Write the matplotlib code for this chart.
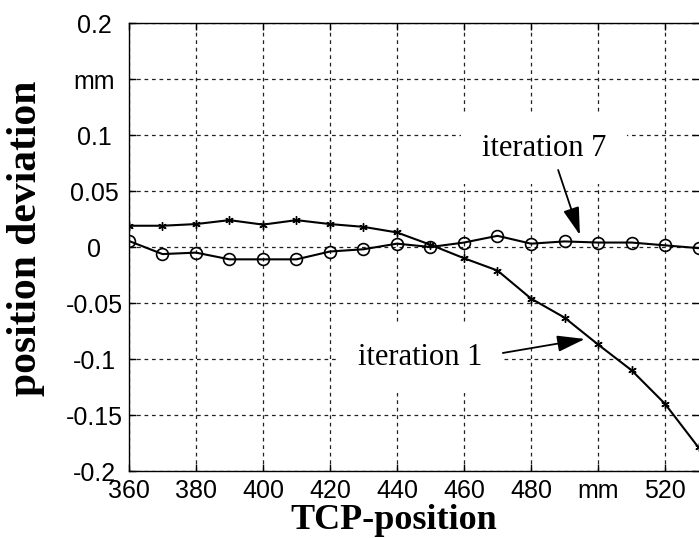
import matplotlib
matplotlib.use("Agg")
import matplotlib.pyplot as plt

# Messpunkte
tcp_pos = [360, 370, 380, 390, 400, 410, 420, 430, 440, 450,
           460, 470, 480, 490, 500, 510, 520, 530]
iter1 = [0.019, 0.019, 0.0205, 0.024, 0.020, 0.024, 0.0205, 0.018, 0.013, 0.002,
         -0.010, -0.021, -0.046, -0.063, -0.087, -0.110, -0.140, -0.179]
iter7 = [0.0054, -0.0063, -0.005, -0.011, -0.011, -0.011, -0.004, -0.002, 0.003, 0.0,
         0.004, 0.010, 0.003, 0.005, 0.004, 0.004, 0.0015, -0.001]

xticks = [360, 380, 400, 420, 440, 460, 480, 500, 520]
xticklabels = ['360', '380', '400', '420', '440', '460', '480', 'mm', '520']
yticks = [0.2, 0.15, 0.1, 0.05, 0, -0.05, -0.1, -0.15, -0.2]
yticklabels = ['0.2', 'mm', '0.1', '0.05', '0', '-0.05', '-0.1', '-0.15', '-0.2']

fig = plt.figure(figsize=(6.99, 5.38), dpi=100)
ax = fig.add_axes([0.1845, 0.1245, 0.8148, 0.8327])

ax.plot(tcp_pos, iter1, color='black', lw=1.5, marker=(6, 2, 0), ms=6, mew=1.0, zorder=3)
ax.plot(tcp_pos, iter7, color='black', lw=1.5, marker='o', ms=8.5, mew=1.2,
        mfc='none', zorder=3)

ax.set_xlim(360, 530)
ax.set_ylim(-0.2, 0.2)
ax.set_xticks(xticks)
ax.set_xticklabels(xticklabels)
ax.set_yticks(yticks)
ax.set_yticklabels(yticklabels, ha='center')

ax.grid(True, color='#222222', linestyle=(0, (3, 3)), linewidth=0.9, zorder=0)
ax.set_axisbelow(True)
ax.spines['right'].set_visible(False)
for s in ['left', 'bottom', 'top']:
    ax.spines[s].set_linewidth(1.0)

ax.tick_params(direction='in', length=5, width=1, top=True, right=True,
               labelsize=18)
ax.tick_params(axis='x', pad=5.5)
ax.tick_params(axis='y', pad=25)
for lab in ax.get_xticklabels() + ax.get_yticklabels():
    lab.set_fontfamily('Liberation Sans')

lbl_font = dict(family='Liberation Serif', weight='bold', size=30)
ax.set_xlabel('TCP-position', size=26, family='Liberation Serif', weight='bold')
ax.set_ylabel('position deviation', **lbl_font)
ax.xaxis.set_label_coords(0.465, -0.073)
ax.yaxis.set_label_coords(-0.148, 0.519)

# Beschriftungen mit Pfeilen
txt_font = dict(family='Liberation Serif', size=22)
ax.text(465.4, 0.0813, 'iteration 7', va='baseline', ha='left', zorder=2,
        bbox=dict(fc='white', ec='none', pad=15), **txt_font)
ax.text(428.4, -0.1054, 'iteration 1', va='baseline', ha='left', zorder=2,
        bbox=dict(fc='white', ec='none', pad=15), **txt_font)

arrow = dict(arrowstyle='-|>,head_length=1.7,head_width=0.5', color='black',
             lw=1.3, shrinkA=0, shrinkB=0, mutation_scale=10)
ax.annotate('', xy=(494.6, 0.0107), xytext=(488.1, 0.0688), arrowprops=arrow, zorder=4)
ax.annotate('', xy=(496.1, -0.0821), xytext=(471.6, -0.0946), arrowprops=arrow, zorder=4)

fig.savefig('out.png', dpi=100)
